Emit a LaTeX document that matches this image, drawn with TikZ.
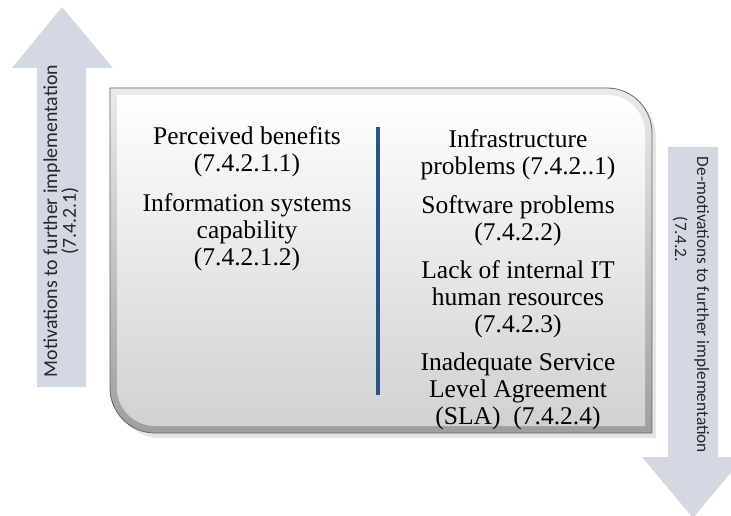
\documentclass[tikz,border=0pt]{standalone}
\usepackage{fontspec}
\setmainfont{Liberation Serif}
\newfontfamily\calfont{Carlito}
\definecolor{arrowgrey}{RGB}{211,216,226}
\definecolor{dividerblue}{RGB}{44,82,138}
\tikzset{
    bigarrow/.style={fill=arrowgrey, draw=none},
    arrowtext/.style={font=\calfont, inner sep=0pt, text=black!85},
    itemtext/.style={align=center, inner sep=0pt, font=\fontsize{25.5}{27}\selectfont},
    divider/.style={draw=dividerblue, line width=4pt}
}
\begin{document}
\begin{tikzpicture}[x=1pt, y=-1pt]
    \useasboundingbox (0,0) rectangle (731,516);
    \clip (0,0) rectangle (731,516);
    % the two arrows
    \fill[bigarrow] (37,387) -- (37,68) -- (12,68) -- (62,7) -- (113,68) -- (86,68) -- (86,387) -- cycle;
    \fill[bigarrow] (668,147) -- (718,147) -- (718,457) -- (744,457) -- (693,518) -- (642,457) -- (668,457) -- cycle;
    \node[arrowtext, rotate=90, align=center, font=\calfont\fontsize{19.8}{17}\selectfont] (motiv) at (61,221)
        {Motivations to further implementation\\(7.4.2.1)};
    \node[arrowtext, rotate=-90, align=left, font=\calfont\fontsize{17.3}{22}\selectfont] (demotiv) at (691,305)
        {De-motivations to further implementation\\\hspace*{60pt}(7.4.2.};
    % bevelled box
    \fill[black!10] (113,93) -- (400,93) [rounded corners=45pt] -- (656,93) -- (656,300) [sharp corners]
        -- (656,438) -- (400,438) [rounded corners=45pt] -- (115,438) -- (115,300) [sharp corners] -- cycle;
    \shade[top color=black!8, bottom color=black!38, draw=black!60, line width=0.8pt]
        (110,88) -- (400,88) [rounded corners=45pt] -- (652,88) -- (652,300) [sharp corners]
        -- (652,433) -- (400,433) [rounded corners=45pt] -- (110,433) -- (110,300) [sharp corners] -- cycle;
    \shade[top color=white, bottom color=black!18]
        (117,95) -- (400,95) [rounded corners=38pt] -- (645,95) -- (645,300) [sharp corners]
        -- (645,426) -- (400,426) [rounded corners=38pt] -- (117,426) -- (117,300) [sharp corners] -- cycle;
    \draw[divider] (378,127) -- (378,395);
    % left column
    \node[itemtext] (benefits) at (247,152) {Perceived benefits\\(7.4.2.1.1)};
    \node[itemtext] (capability) at (247,232) {Information systems\\capability\\(7.4.2.1.2)};
    % right column
    \node[itemtext] (infra) at (518,155) {Infrastructure\\problems (7.4.2..1)};
    \node[itemtext] (software) at (518,221) {Software problems\\(7.4.2.2)};
    \node[itemtext] (human) at (518,299) {Lack of internal IT\\human resources\\(7.4.2.3)};
    \node[itemtext] (sla) at (518,391) {Inadequate Service\\Level Agreement\\(SLA)\ \ (7.4.2.4)};
\end{tikzpicture}
\end{document}
